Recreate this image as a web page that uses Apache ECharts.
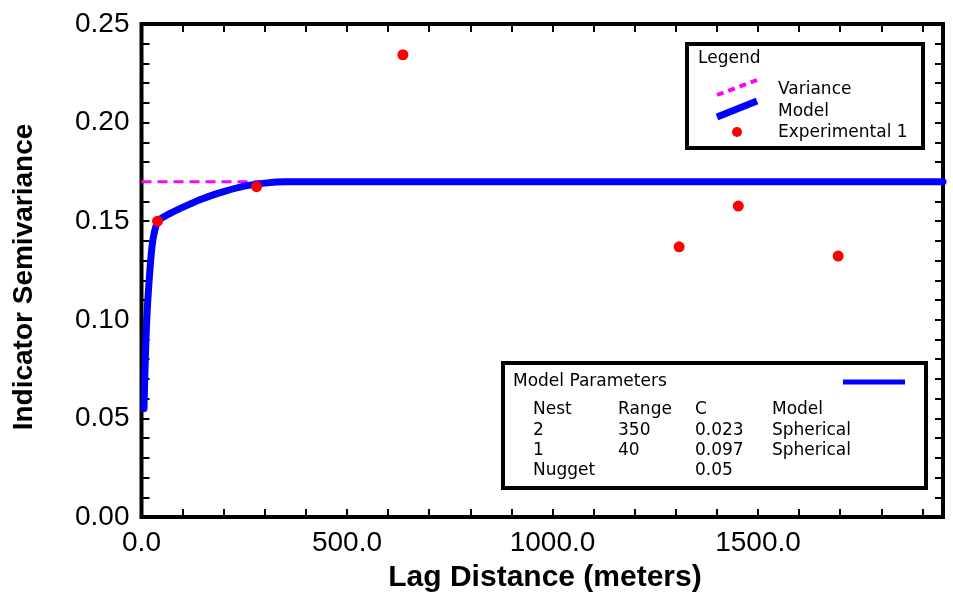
<!DOCTYPE html>
<html>
<head>
<meta charset="utf-8">
<script src="https://cdn.jsdelivr.net/npm/echarts@6/dist/echarts.min.js"></script>
<style>
  html, body { margin: 0; padding: 0; background: #fff; }
  #chart { width: 953px; height: 598px; }
</style>
</head>
<body>
<div id="chart"></div>
<script>
// Experimental indicator semivariogram (lag in metres, semivariance)
const expLag   = [39, 280, 636, 1308, 1452, 1695];
const expGamma = [0.150, 0.1675, 0.2344, 0.1370, 0.1577, 0.1323];

// Fitted nested spherical model, sampled along the lag axis
const modelLag   = [6, 10, 14, 20, 26, 32, 38, 45, 70, 100, 150, 200, 250, 300, 350, 1950];
const modelGamma = [0.055, 0.085, 0.105, 0.124, 0.138, 0.145, 0.149, 0.151, 0.154, 0.157, 0.1615, 0.165, 0.1678, 0.1693, 0.170, 0.170];

// Sample variance (sill reference)
const varianceLag   = [0, 1950];
const varianceGamma = [0.17, 0.17];

// Axis tick labels
const xTickLabels = ['0.0', '500.0', '1000.0', '1500.0'];
const yTickLabels = ['0.00', '0.05', '0.10', '0.15', '0.20', '0.25'];

// Model parameter table
const paramHeader = ['Nest', 'Range', 'C', 'Model'];
const paramRows = [
  ['2', '350', '0.023', 'Spherical'],
  ['1', '40', '0.097', 'Spherical'],
  ['Nugget', '', '0.05', '']
];

const FONT = "'Liberation Sans', Arial, Helvetica, sans-serif";
const BOXFONT = "'DejaVu Sans', sans-serif";

const xMax = 1950;
function tickStyle() {
  return { show: true, inside: true, length: 8, lineStyle: { color: '#000', width: 2 } };
}
// frame sides keep their own position instead of snapping to the other axis' zero
const noLine = { show: false, onZero: false };

function xLabel(v) {
  const i = Math.round(v / 500);
  return (Math.abs(v - i * 500) < 1e-6 && i < xTickLabels.length) ? xTickLabels[i] : '';
}
function yLabel(v) {
  const k = Math.round(v * 100);
  return (k % 5 === 0) ? yTickLabels[k / 5] : '';
}

const chart = echarts.init(document.getElementById('chart'), null, { renderer: 'canvas' });

function boxText(x, y, text) {
  return {
    type: 'text', x: x, y: y, z: 12,
    style: { text: text, font: '17px ' + BOXFONT, fill: '#000', textVerticalAlign: 'middle' }
  };
}

const colX = [533, 618, 695, 772];
const rowY = [410, 431, 451, 471];
const tableTexts = [];
[paramHeader].concat(paramRows).forEach((row, r) => {
  row.forEach((cell, c) => {
    if (cell !== '') tableTexts.push(boxText(colX[c], rowY[r], cell));
  });
});

chart.setOption({
  animation: false,
  grid: {
    left: 141.5, right: 10, top: 24, bottom: 81,
    show: true, borderColor: '#000', borderWidth: 4, backgroundColor: '#fff'
  },
  xAxis: [
    {
      type: 'value', min: 0, max: xMax, interval: 100, position: 'bottom',
      axisLine: noLine, axisTick: tickStyle(), splitLine: { show: false },
      axisLabel: { formatter: xLabel, color: '#000', fontFamily: FONT, fontSize: 28, margin: 12,
                   showMaxLabel: false, hideOverlap: false }
    },
    {
      type: 'value', min: 0, max: xMax, interval: 100, position: 'top',
      axisLine: noLine, axisTick: tickStyle(), splitLine: { show: false },
      axisLabel: { show: false }
    }
  ],
  yAxis: [
    {
      type: 'value', min: 0, max: 0.25, interval: 0.01, position: 'left',
      axisLine: noLine, axisTick: tickStyle(), splitLine: { show: false },
      axisLabel: { formatter: yLabel, color: '#000', fontFamily: FONT, fontSize: 28, margin: 12,
                   hideOverlap: false }
    },
    {
      type: 'value', min: 0, max: 0.25, interval: 0.01, position: 'right',
      axisLine: noLine, axisTick: tickStyle(), splitLine: { show: false },
      axisLabel: { show: false }
    }
  ],
  series: [
    {
      name: 'Variance', type: 'line', xAxisIndex: 0, yAxisIndex: 0,
      data: varianceLag.map((x, i) => [x, varianceGamma[i]]),
      showSymbol: false, silent: true,
      lineStyle: { color: '#ff00ff', width: 3, type: [10, 6] }, z: 2
    },
    {
      name: 'Model', type: 'line', xAxisIndex: 0, yAxisIndex: 0,
      data: modelLag.map((x, i) => [x, modelGamma[i]]),
      showSymbol: false, smooth: 0.3, silent: true,
      lineStyle: { color: '#0000ff', width: 7, cap: 'round', join: 'round' }, z: 3
    },
    {
      name: 'Experimental 1', type: 'scatter', xAxisIndex: 0, yAxisIndex: 0,
      data: expLag.map((x, i) => [x, expGamma[i]]),
      symbol: 'circle', symbolSize: 11, itemStyle: { color: '#ff0000', opacity: 1 }, z: 4
    }
  ],
  graphic: [
    // axis titles
    {
      type: 'text', x: 545, y: 578,
      style: { text: 'Lag Distance (meters)', font: 'bold 30px ' + FONT, fill: '#000',
               textAlign: 'center', textVerticalAlign: 'middle' }
    },
    {
      type: 'text', x: 24, y: 277, rotation: Math.PI / 2,
      style: { text: 'Indicator Semivariance', font: 'bold 28px ' + FONT, fill: '#000',
               textAlign: 'center', textVerticalAlign: 'middle' }
    },
    // legend box
    {
      type: 'rect', shape: { x: 687, y: 44, width: 236, height: 104 },
      style: { fill: '#fff', stroke: '#000', lineWidth: 4 }, z: 10
    },
    boxText(698, 59, 'Legend'),
    { type: 'line', z: 11, shape: { x1: 717, y1: 95, x2: 757, y2: 80 },
      style: { stroke: '#ff00ff', lineWidth: 4, lineDash: [7, 5] } },
    { type: 'line', z: 11, shape: { x1: 717, y1: 117, x2: 757, y2: 101 },
      style: { stroke: '#0000ff', lineWidth: 7 } },
    { type: 'circle', z: 11, shape: { cx: 737, cy: 132, r: 5 }, style: { fill: '#ff0000' } },
    boxText(778, 90, 'Variance'),
    boxText(778, 112, 'Model'),
    boxText(778, 133, 'Experimental 1'),
    // model parameter box
    {
      type: 'rect', shape: { x: 503, y: 363, width: 423, height: 125 },
      style: { fill: '#fff', stroke: '#000', lineWidth: 4 }, z: 10
    },
    boxText(513, 382, 'Model Parameters'),
    { type: 'line', z: 11, shape: { x1: 843, y1: 382, x2: 905, y2: 382 },
      style: { stroke: '#0000ff', lineWidth: 5 } }
  ].concat(tableTexts)
});
</script>
</body>
</html>
